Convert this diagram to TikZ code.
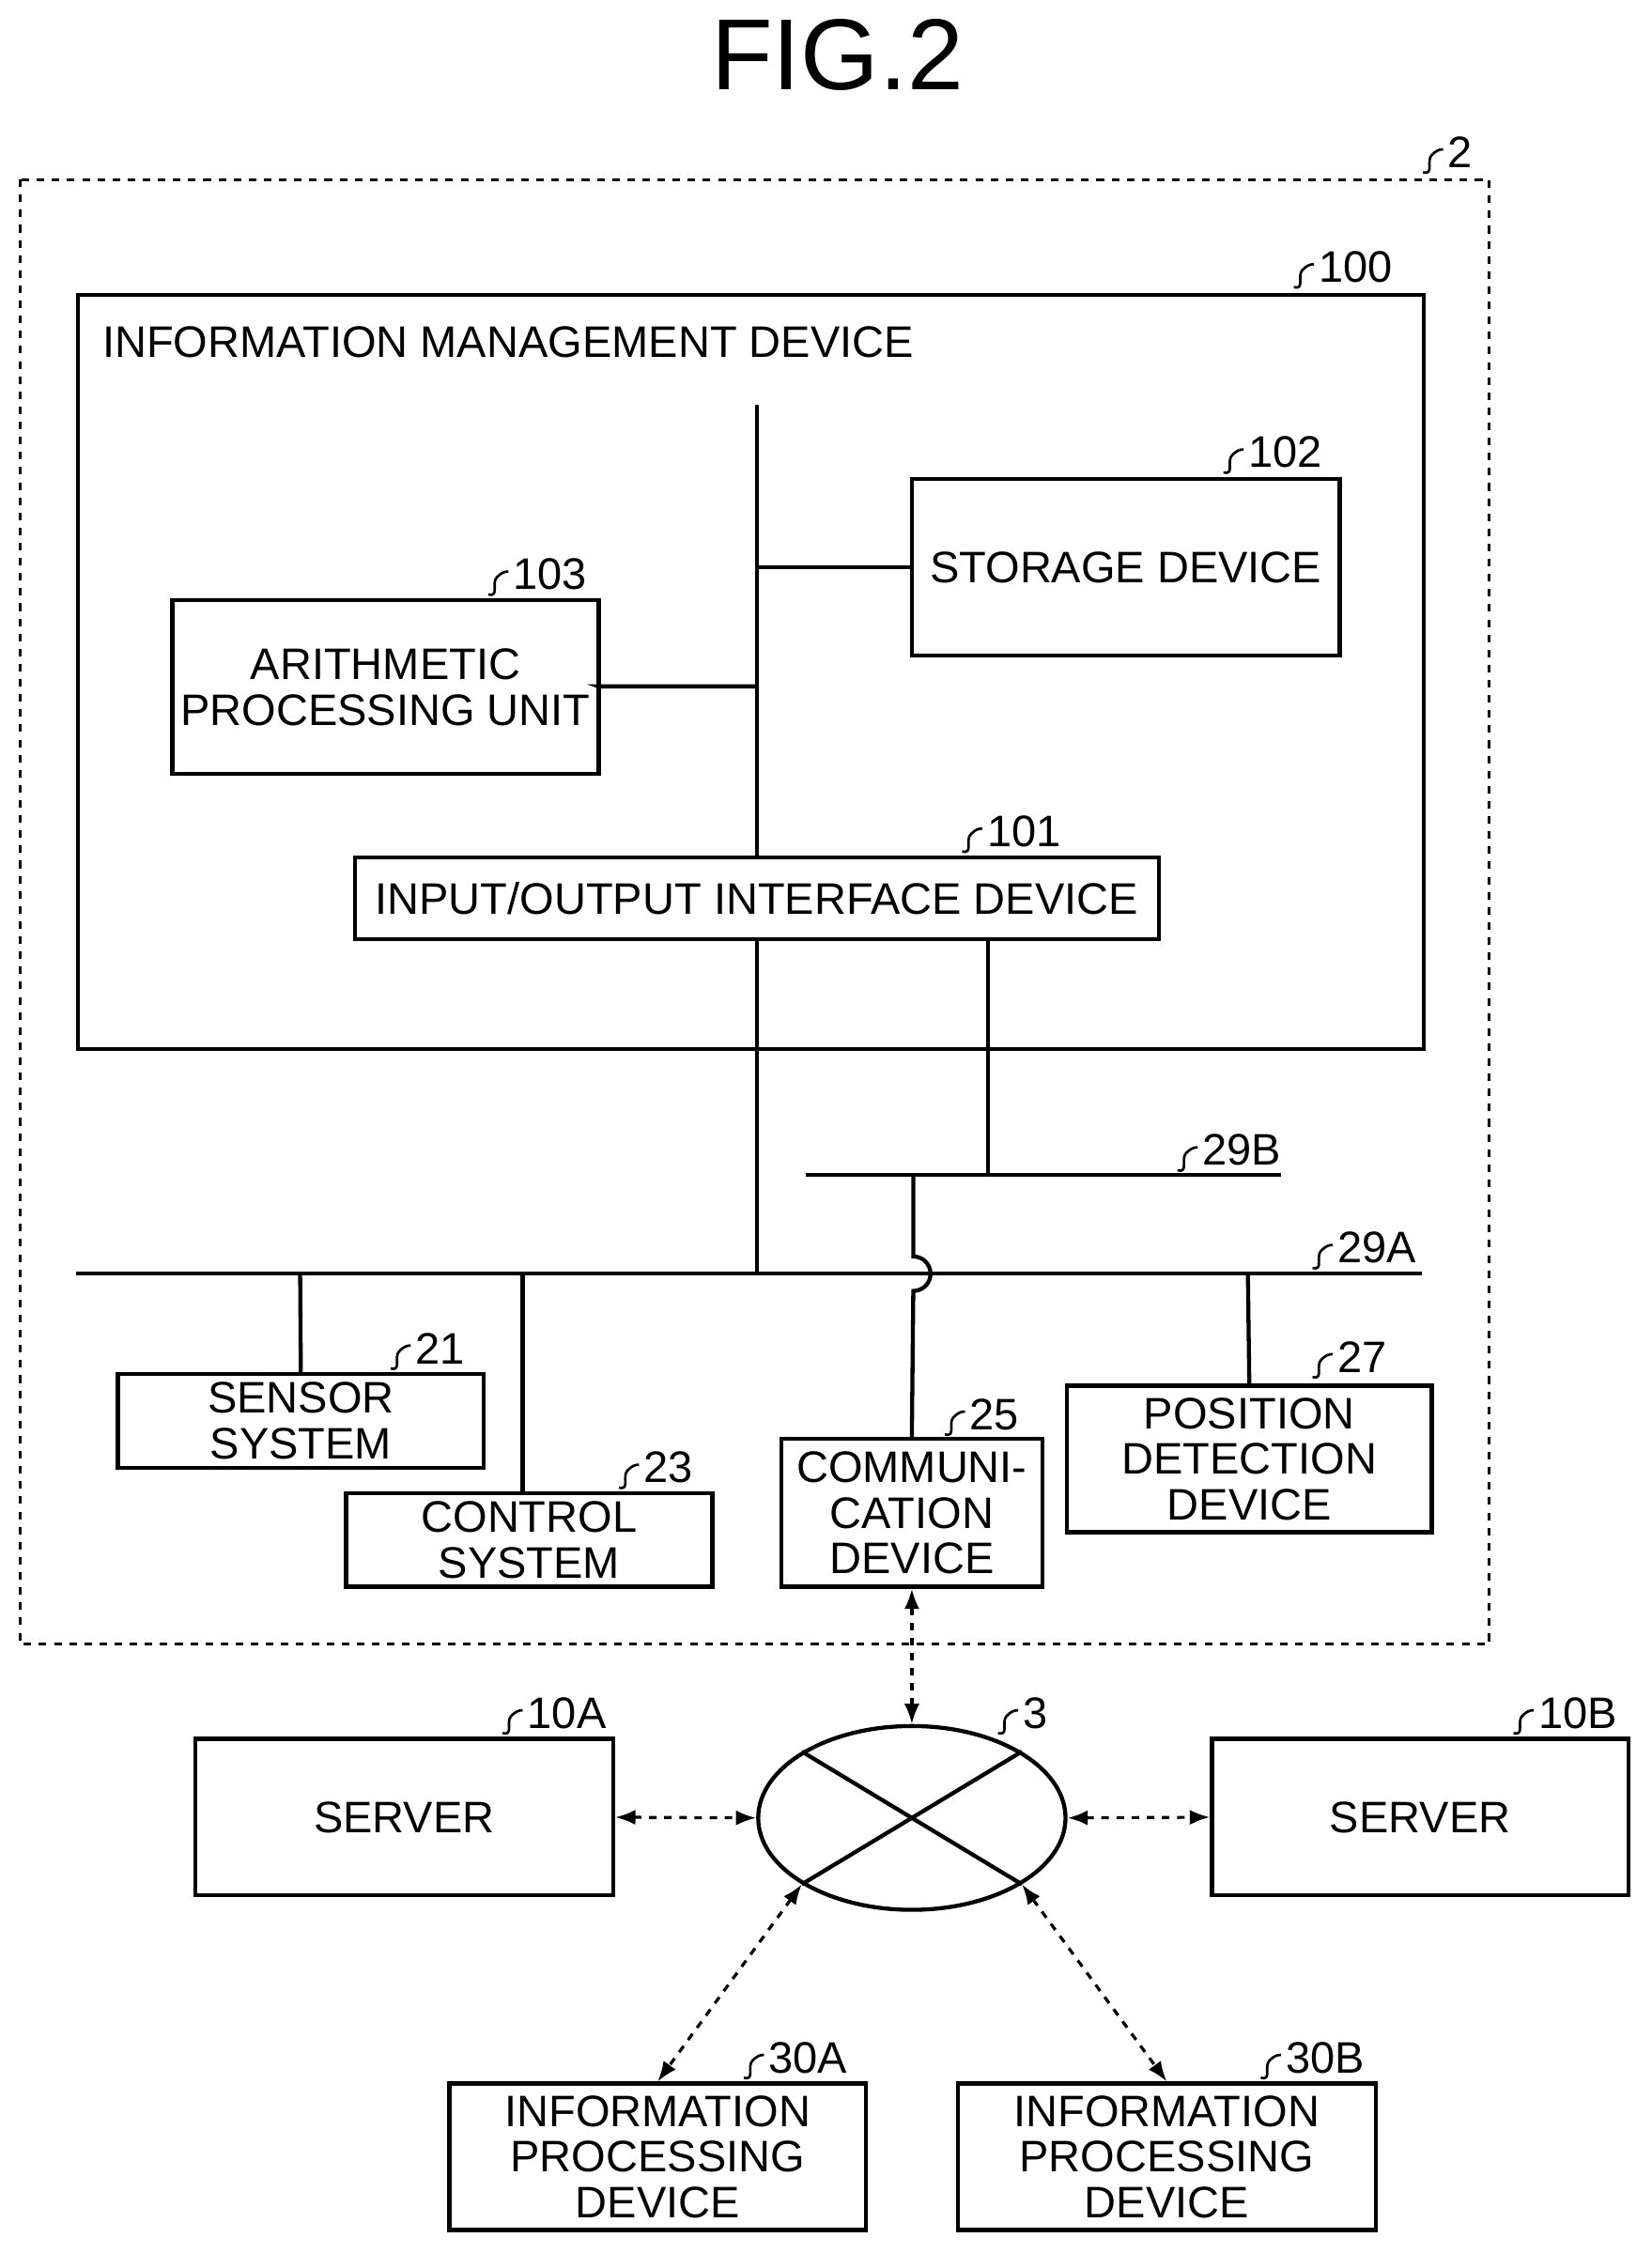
\documentclass[tikz,border=0pt]{standalone}
\usepackage{fontspec}
\setmainfont{Liberation Sans}
\usetikzlibrary{arrows.meta,shapes.geometric}
\begin{document}
\begin{tikzpicture}[x=0.02cm,y=-0.02cm,line width=1.6pt,
  box/.style={draw,line width=1.6pt},
  txt/.style={font=\fontsize{17.5}{18}\selectfont,align=center,inner sep=0pt},
  num/.style={font=\fontsize{17.5}{18}\selectfont,anchor=west,inner sep=0pt},
  da/.style={dashed,line width=1.2pt,{Latex[length=8pt]}-{Latex[length=8pt]}}]
\useasboundingbox (0,0) rectangle (1150,1569);
\newcommand{\reflbl}[4]{% name, x, y, text
  \draw[line width=1pt] (#2-14,#3+10) .. controls (#2-6,#3+12) and (#2-12,#3+2) .. (#2-8,#3-2) .. controls (#2-5,#3-5) and (#2-3,#3-6) .. (#2,#3-6);
  \node[num] (#1) at (#2+2,#3-4) {#4};}
\node[font=\fontsize{40}{40}\selectfont] (title) at (583,38) {FIG.2};
% dashed outer
\draw[dashed,line width=1.2pt] (14,125) rectangle (1037,1145);
\reflbl{l2}{1005}{110}{2}
% device 100
\node[box,minimum width=937*0.02cm,minimum height=525*0.02cm,anchor=north west] (d100) at (53,204) {};
\reflbl{l100}{915}{190}{100}
\node[txt,anchor=west] (imd) at (70,238) {INFORMATION MANAGEMENT DEVICE};
\node[box,txt,minimum width=298*0.02cm,minimum height=123*0.02cm] (st) at (784,395) {STORAGE DEVICE};
\reflbl{l102}{866}{319}{102}
\node[box,txt,minimum width=297*0.02cm,minimum height=121*0.02cm] (ar) at (268.5,478.5) {ARITHMETIC\\PROCESSING UNIT};
\reflbl{l103}{354}{404}{103}
\node[box,txt,minimum width=560*0.02cm,minimum height=57*0.02cm] (io) at (527,625.5) {INPUT/OUTPUT INTERFACE DEVICE};
\reflbl{l101}{684}{583}{101}
\coordinate (btop) at (527,282);
\draw (btop) -- (io.north);
\draw (527,395) -- (st.west);
\draw (ar.east) -- (417,478) -| (527,478);
% buses
\coordinate (a1) at (53,887); \coordinate (a2) at (990,887);
\coordinate (b1) at (561,818); \coordinate (b2) at (892,818);
\draw (a1) -- (a2); \draw (b1) -- (b2);
\reflbl{l29A}{928}{873}{29A}
\reflbl{l29B}{834}{805}{29B}
\draw (io.south) -- (527,887);
\draw (688,654) -- (688,818);
% devices
\node[box,txt,minimum width=255*0.02cm,minimum height=65*0.02cm] (s21) at (209.5,989.5) {SENSOR\\SYSTEM};
\reflbl{l21}{286}{943}{21}
\node[box,txt,minimum width=255*0.02cm,minimum height=65*0.02cm] (c23) at (368.5,1072.5) {CONTROL\\SYSTEM};
\reflbl{l23}{445}{1026}{23}
\node[box,txt,minimum width=182*0.02cm,minimum height=103*0.02cm] (c25) at (635,1053.5) {COMMUNI-\\CATION\\DEVICE};
\reflbl{l25}{672}{989}{25}
\node[box,txt,minimum width=254*0.02cm,minimum height=102*0.02cm] (p27) at (870,1016) {POSITION\\DETECTION\\DEVICE};
\reflbl{l27}{928}{949}{27}
\draw (209,887) -- (s21.north);
\draw (364,887) -- (364,1040);
\draw (869,887) -- (p27.north);
\draw (636,818) -- (636,875) arc[start angle=90,end angle=-90,radius=12*0.02cm] -- (c25.north);
% network
\node[draw,ellipse,minimum width=214*0.02cm,minimum height=128*0.02cm,inner sep=0pt] (n3) at (635,1266) {};
\draw (n3.north west) -- (n3.south east); \draw (n3.north east) -- (n3.south west);
\reflbl{l3}{709}{1197}{3}
\node[box,txt,minimum width=291*0.02cm,minimum height=109*0.02cm] (s10a) at (281.5,1265.5) {SERVER};
\reflbl{l10A}{364}{1197}{10A}
\node[box,txt,minimum width=290*0.02cm,minimum height=109*0.02cm] (s10b) at (989,1265.5) {SERVER};
\reflbl{l10B}{1068}{1197}{10B}
\node[box,txt,minimum width=290*0.02cm,minimum height=102*0.02cm] (i30a) at (458,1502) {INFORMATION\\PROCESSING\\DEVICE};
\reflbl{l30A}{532}{1437}{30A}
\node[box,txt,minimum width=291*0.02cm,minimum height=102*0.02cm] (i30b) at (812.5,1502) {INFORMATION\\PROCESSING\\DEVICE};
\reflbl{l30B}{892}{1437}{30B}
\draw[da] (c25.south) -- (n3.north);
\draw[da] (s10a.east) -- (n3.west);
\draw[da] (n3.east) -- (s10b.east -| s10b.west);
\draw[da] (n3.south west) -- (i30a.north);
\draw[da] (n3.south east) -- (i30b.north);
\end{tikzpicture}
\end{document}
